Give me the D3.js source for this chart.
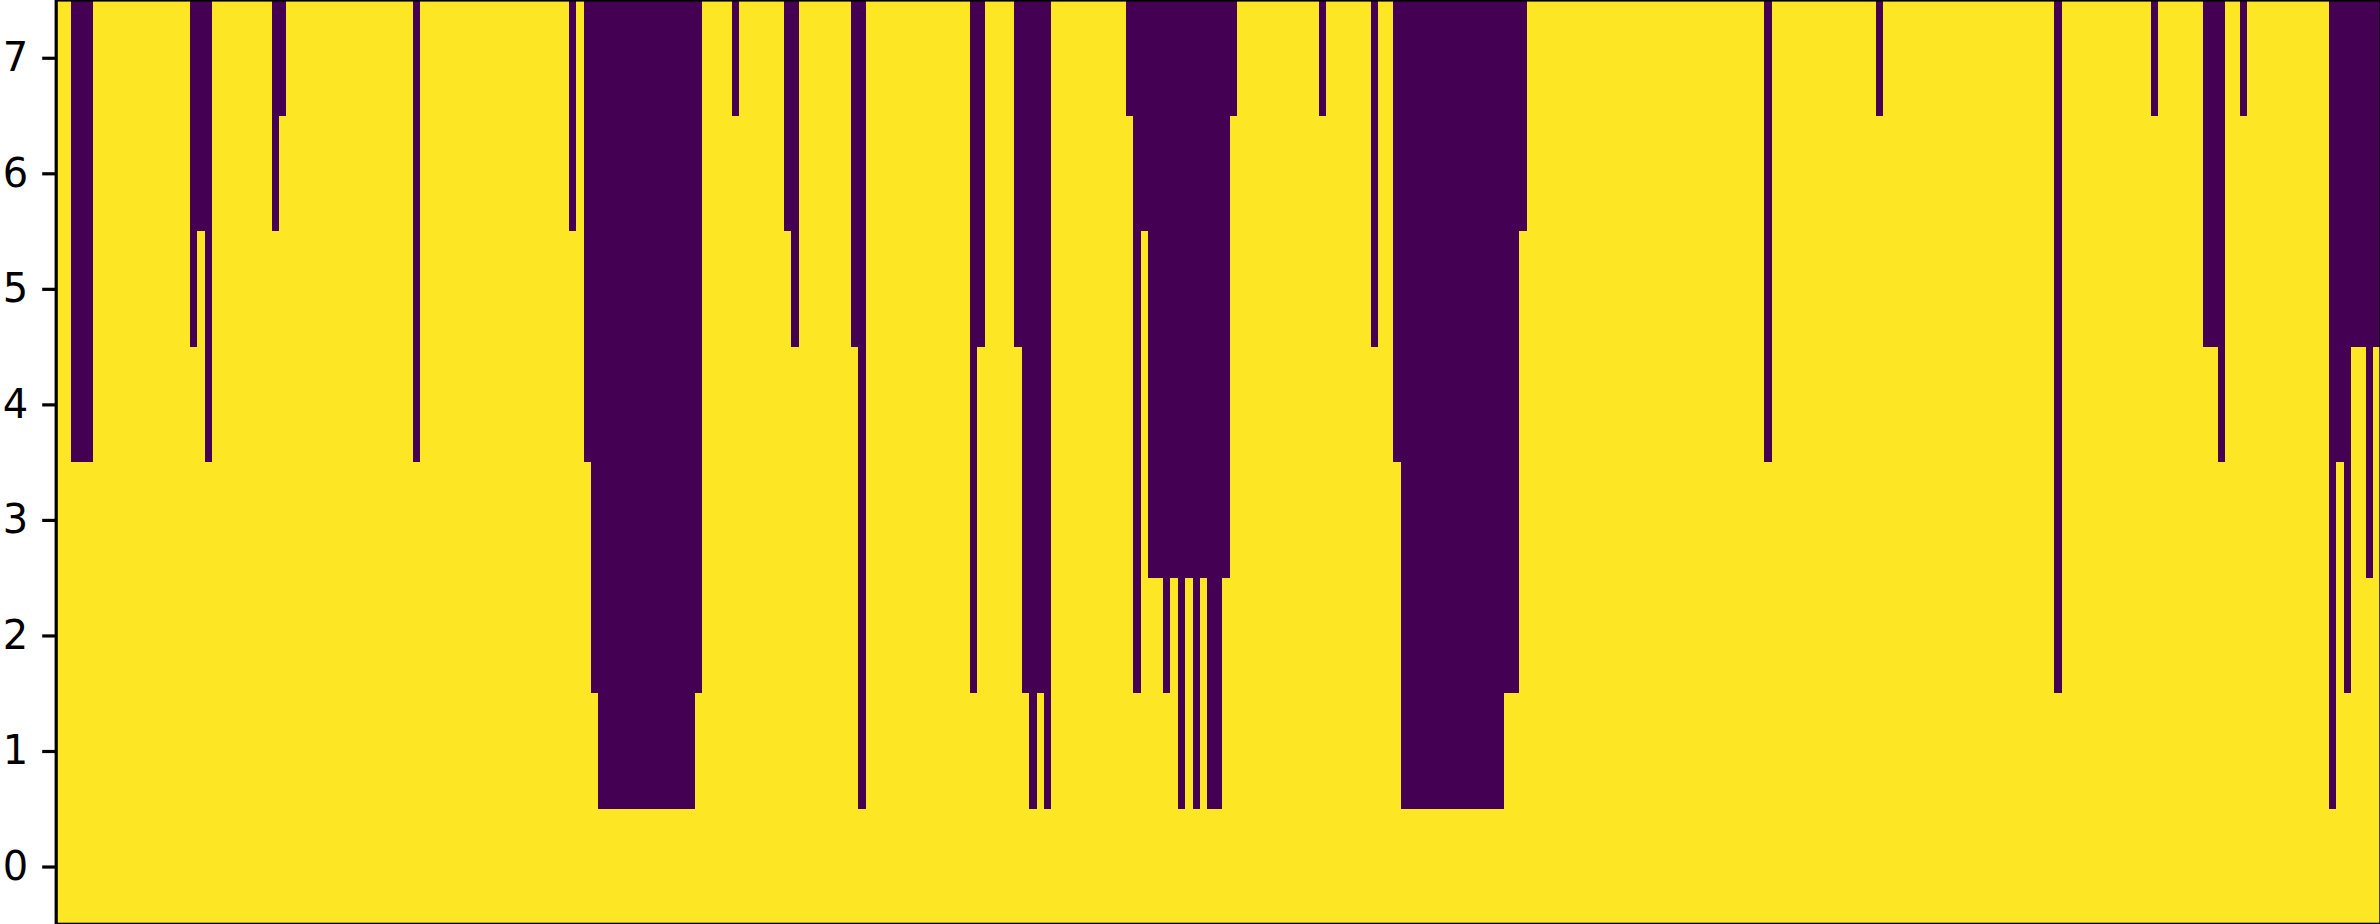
<!DOCTYPE html>
<html>
<head>
<meta charset="utf-8">
<script src="https://cdn.jsdelivr.net/npm/d3@7"></script>
<style>
  html, body { margin: 0; padding: 0; background: #ffffff; overflow: hidden; }
  svg { display: block; }
  .tick text { font-family: "DejaVu Sans", sans-serif; }
</style>
</head>
<body>
<svg id="chart" width="2380" height="924"></svg>
<script>
// Number of yellow rows (counted from row 0 at the bottom) in each column; rows above are purple.
const yellowRows = [
  8,8,4,4,4,8,8,8,8,8,
  8,8,8,8,8,8,8,8,5,6,
  4,8,8,8,8,8,8,8,8,6,
  7,8,8,8,8,8,8,8,8,8,
  8,8,8,8,8,8,8,8,4,8,
  8,8,8,8,8,8,8,8,8,8,
  8,8,8,8,8,8,8,8,8,6,
  8,4,2,1,1,1,1,1,1,1,
  1,1,1,1,1,1,2,8,8,8,
  8,7,8,8,8,8,8,8,6,5,
  8,8,8,8,8,8,8,5,1,8,
  8,8,8,8,8,8,8,8,8,8,
  8,8,8,2,5,8,8,8,8,5,
  2,1,2,1,8,8,8,8,8,8,
  8,8,8,8,7,2,6,3,3,2,
  3,1,3,1,3,1,1,3,7,8,
  8,8,8,8,8,8,8,8,8,8,
  7,8,8,8,8,8,8,5,8,8,
  4,1,1,1,1,1,1,1,1,1,
  1,1,1,1,1,2,2,6,8,8,
  8,8,8,8,8,8,8,8,8,8,
  8,8,8,8,8,8,8,8,8,8,
  8,8,8,8,8,8,8,8,8,8,
  4,8,8,8,8,8,8,8,8,8,
  8,8,8,8,8,7,8,8,8,8,
  8,8,8,8,8,8,8,8,8,8,
  8,8,8,8,8,8,8,8,8,2,
  8,8,8,8,8,8,8,8,8,8,
  8,8,7,8,8,8,8,8,8,5,
  5,4,8,8,7,8,8,8,8,8,
  8,8,8,8,8,8,1,4,2,5,
  5,3,5
];
const rowLabels = [0, 1, 2, 3, 4, 5, 6, 7];
const cellColors = ["#440154", "#fde725"]; // 0 = purple, 1 = yellow

const nCols = yellowRows.length;
const nRows = rowLabels.length;

// Matrix of cells built from the arrays above
const cells = [];
yellowRows.forEach((k, c) => {
  rowLabels.forEach(r => {
    cells.push({ col: c, row: r, value: r < k ? 1 : 0 });
  });
});

const svg = d3.select("#chart");
const plotLeft = 56.2, plotRight = 2380.9, plotTop = 0, plotBottom = 924.3;

const x = d3.scaleLinear().domain([-0.5, nCols - 0.5]).range([plotLeft, plotRight]);
const y = d3.scaleLinear().domain([-0.5, nRows - 0.5]).range([plotBottom, plotTop]);
const color = d3.scaleOrdinal().domain([0, 1]).range(cellColors);

const g = svg.append("g");
g.selectAll("rect.cell")
  .data(cells)
  .join("rect")
  .attr("class", "cell")
  .attr("x", d => Math.round(x(d.col - 0.5)))
  .attr("width", d => Math.round(x(d.col + 0.5)) - Math.round(x(d.col - 0.5)))
  .attr("y", d => Math.round(y(d.row + 0.5)))
  .attr("height", d => Math.round(y(d.row - 0.5)) - Math.round(y(d.row + 0.5)))
  .attr("fill", d => color(d.value))
  .attr("shape-rendering", "crispEdges");

// Spines
svg.append("rect")
  .attr("x", plotLeft).attr("y", plotTop)
  .attr("width", plotRight - plotLeft).attr("height", plotBottom - plotTop)
  .attr("fill", "none")
  .attr("stroke", "#000")
  .attr("stroke-width", 3.2);

// Y axis
const yAxis = d3.axisLeft(y).tickValues(rowLabels).tickSize(14).tickPadding(14).tickFormat(d3.format("d"));
const ya = svg.append("g").attr("transform", `translate(${plotLeft},0)`).call(yAxis);
ya.select(".domain").remove();
ya.selectAll(".tick line").attr("stroke", "#000").attr("stroke-width", 3.2);
ya.selectAll(".tick text").attr("fill", "#000").style("font-size", "40px");
</script>
</body>
</html>
